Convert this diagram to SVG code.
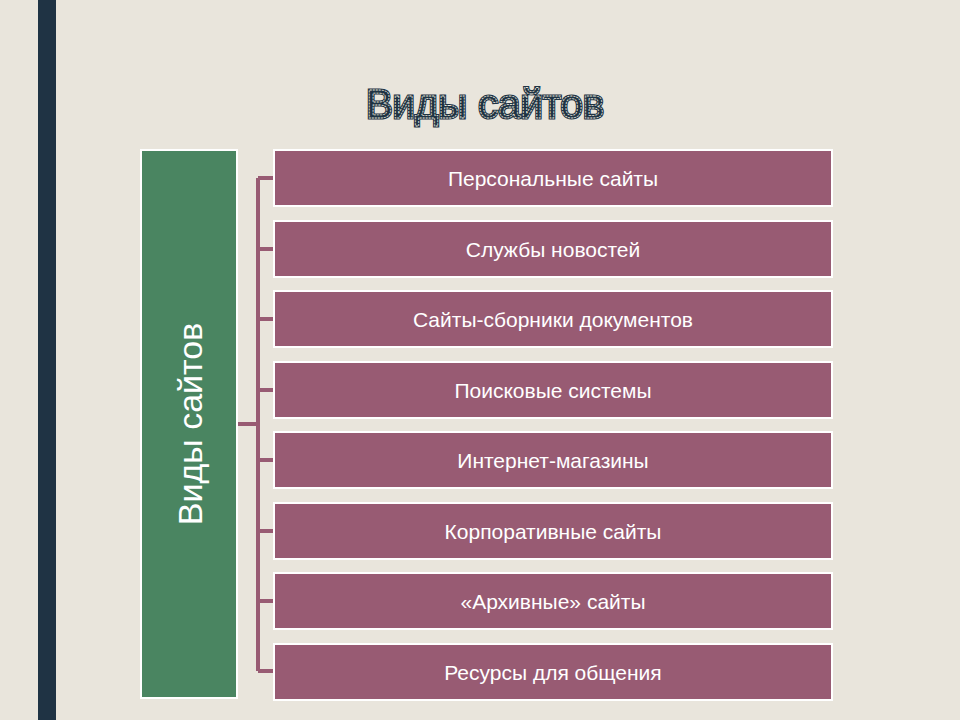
<svg xmlns="http://www.w3.org/2000/svg" width="960" height="720" viewBox="0 0 960 720">
<style>
.b{fill:#985b73;stroke:#fff;stroke-width:2}
.t{font-family:"Liberation Sans",Arial,sans-serif;font-size:21px;fill:#fff;text-anchor:middle}
.c{stroke:#985b73;stroke-width:4;fill:none}
</style>
<rect width="960" height="720" fill="#e9e5dc"/>
<rect x="38" y="0" width="18" height="720" fill="#1f3344"/>
<text x="485" y="118" font-family="Liberation Sans,Arial,sans-serif" font-size="40" text-anchor="middle" fill="#1f3344" stroke="#1f3344" stroke-width="3">Виды сайтов</text>
<text x="485" y="118" font-family="Liberation Sans,Arial,sans-serif" font-size="40" text-anchor="middle" fill="none" stroke="#e9e5dc" stroke-width="0.8" stroke-dasharray="2 1">Виды сайтов</text>
<g id="connectors">
<path class="c" d="M258 178V671M237 424H258M258 178H274M258 249H274M258 319H274M258 390H274M258 460H274M258 531H274M258 601H274M258 671H274"/>
</g>
<g id="root"><rect x="141" y="150" width="96" height="548" fill="#4a8561" stroke="#fff" stroke-width="2"/>
<text transform="translate(202 424) rotate(-90)" font-family="Liberation Sans,Arial,sans-serif" font-size="34" fill="#fff" text-anchor="middle">Виды сайтов</text></g>
<g id="n1"><rect class="b" x="274" y="150" width="558" height="56"/><text class="t" x="553" y="186">Персональные сайты</text></g>
<g id="n2"><rect class="b" x="274" y="221" width="558" height="56"/><text class="t" x="553" y="257">Службы новостей</text></g>
<g id="n3"><rect class="b" x="274" y="291" width="558" height="56"/><text class="t" x="553" y="327">Сайты-сборники документов</text></g>
<g id="n4"><rect class="b" x="274" y="362" width="558" height="56"/><text class="t" x="553" y="398">Поисковые системы</text></g>
<g id="n5"><rect class="b" x="274" y="432" width="558" height="56"/><text class="t" x="553" y="468">Интернет-магазины</text></g>
<g id="n6"><rect class="b" x="274" y="503" width="558" height="56"/><text class="t" x="553" y="539">Корпоративные сайты</text></g>
<g id="n7"><rect class="b" x="274" y="573" width="558" height="56"/><text class="t" x="553" y="609">«Архивные» сайты</text></g>
<g id="n8"><rect class="b" x="274" y="644" width="558" height="56"/><text class="t" x="553" y="680">Ресурсы для общения</text></g>
</svg>
